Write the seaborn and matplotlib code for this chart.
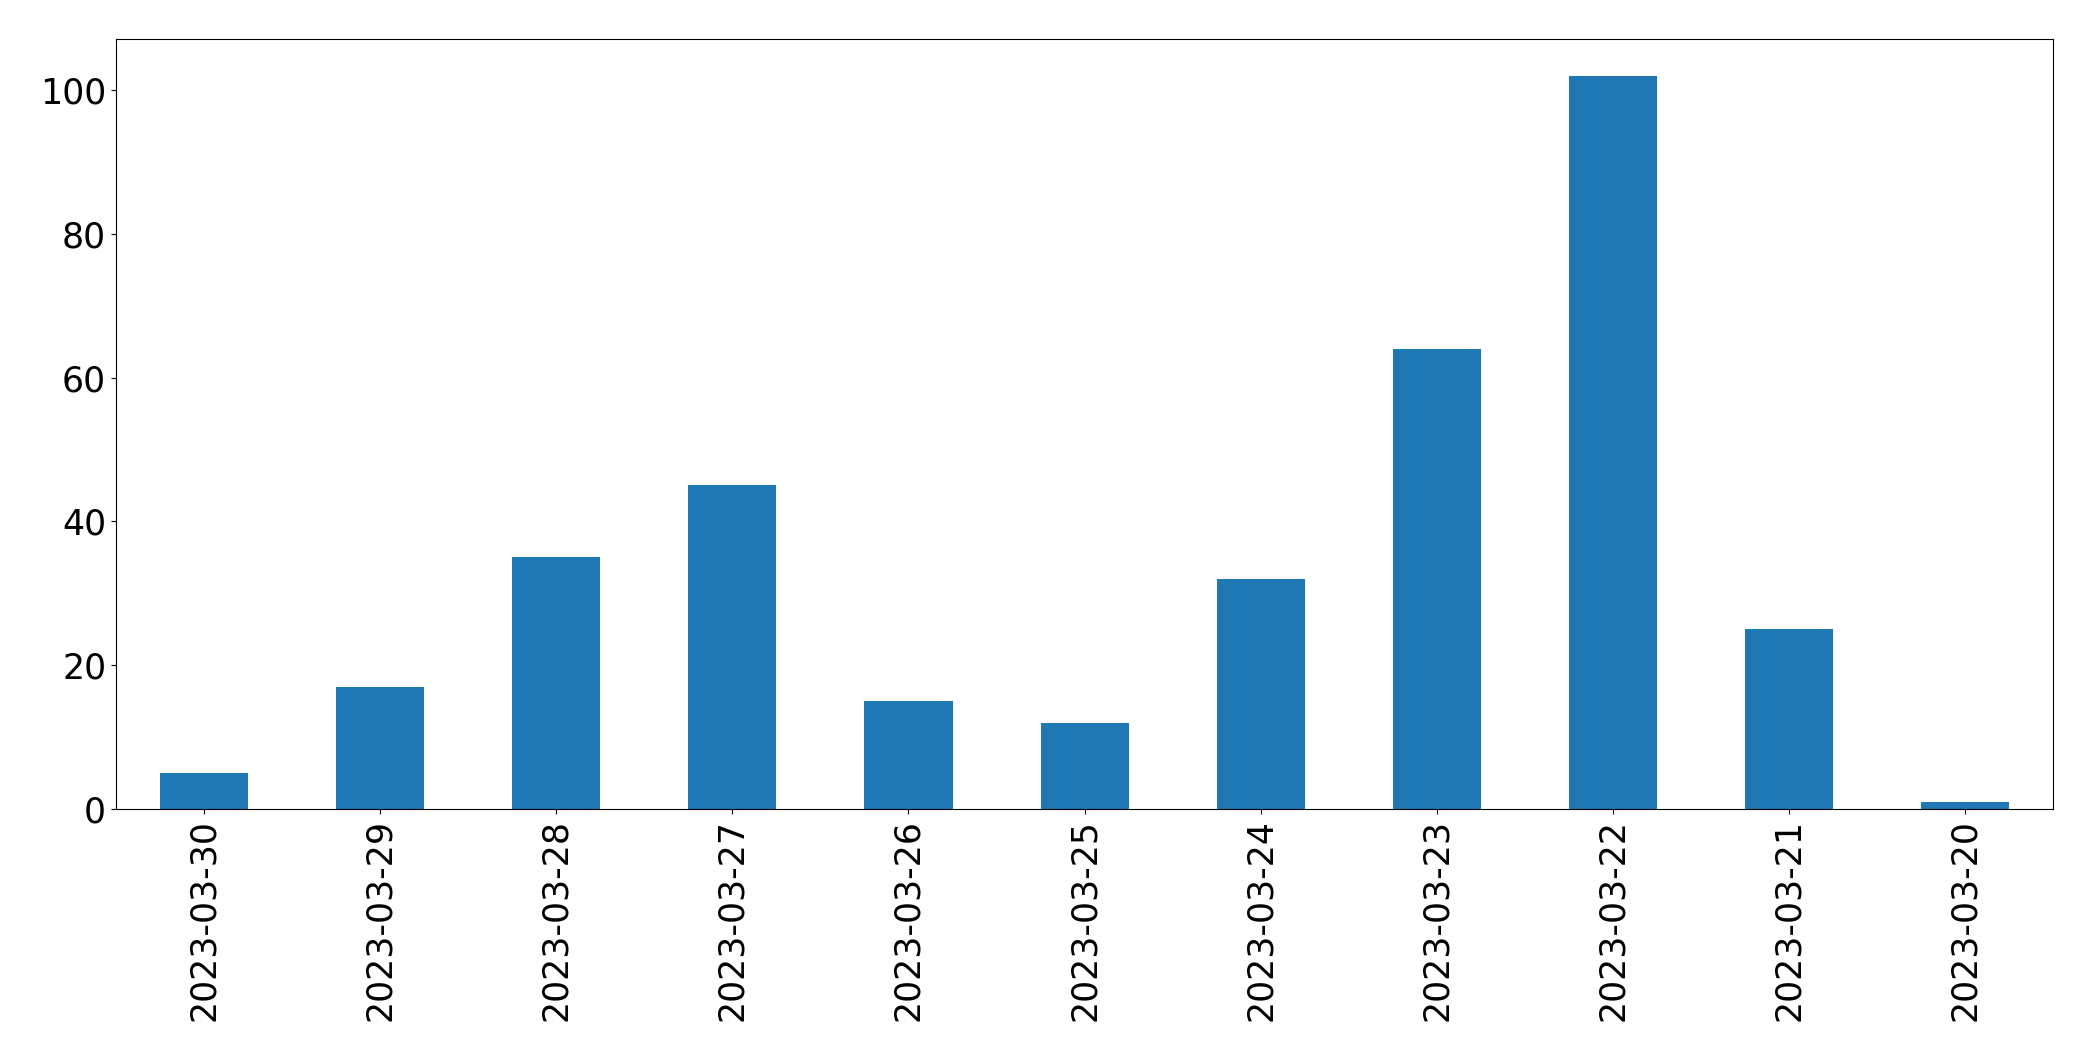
import matplotlib
matplotlib.use("Agg")
import matplotlib.pyplot as plt
import seaborn as sns
import pandas as pd

dates = ["2023-03-30", "2023-03-29", "2023-03-28", "2023-03-27", "2023-03-26",
         "2023-03-25", "2023-03-24", "2023-03-23", "2023-03-22", "2023-03-21",
         "2023-03-20"]
counts = [5, 17, 35, 45, 15, 12, 32, 64, 102, 25, 1]

df = pd.DataFrame({"date": dates, "count": counts})

fig = plt.figure(figsize=(20.93, 10.61), dpi=100)
ax = fig.add_axes([0.0554, 0.2375, 0.9256, 0.7257])
sns.barplot(data=df, x="date", y="count", order=dates, color="#1f77b4",
            saturation=1, width=0.5, ax=ax, linewidth=0)
ax.set_xlim(-0.5, len(dates) - 0.5)
ax.set_ylim(0, max(counts) * 1.05)
ax.set_xlabel("")
ax.set_ylabel("")
ax.tick_params(axis="both", labelsize=25)
ax.tick_params(axis="x", labelrotation=90)
for s in ax.spines.values():
    s.set_visible(True)
    s.set_color("black")
fig.savefig("out.png", dpi=100)
